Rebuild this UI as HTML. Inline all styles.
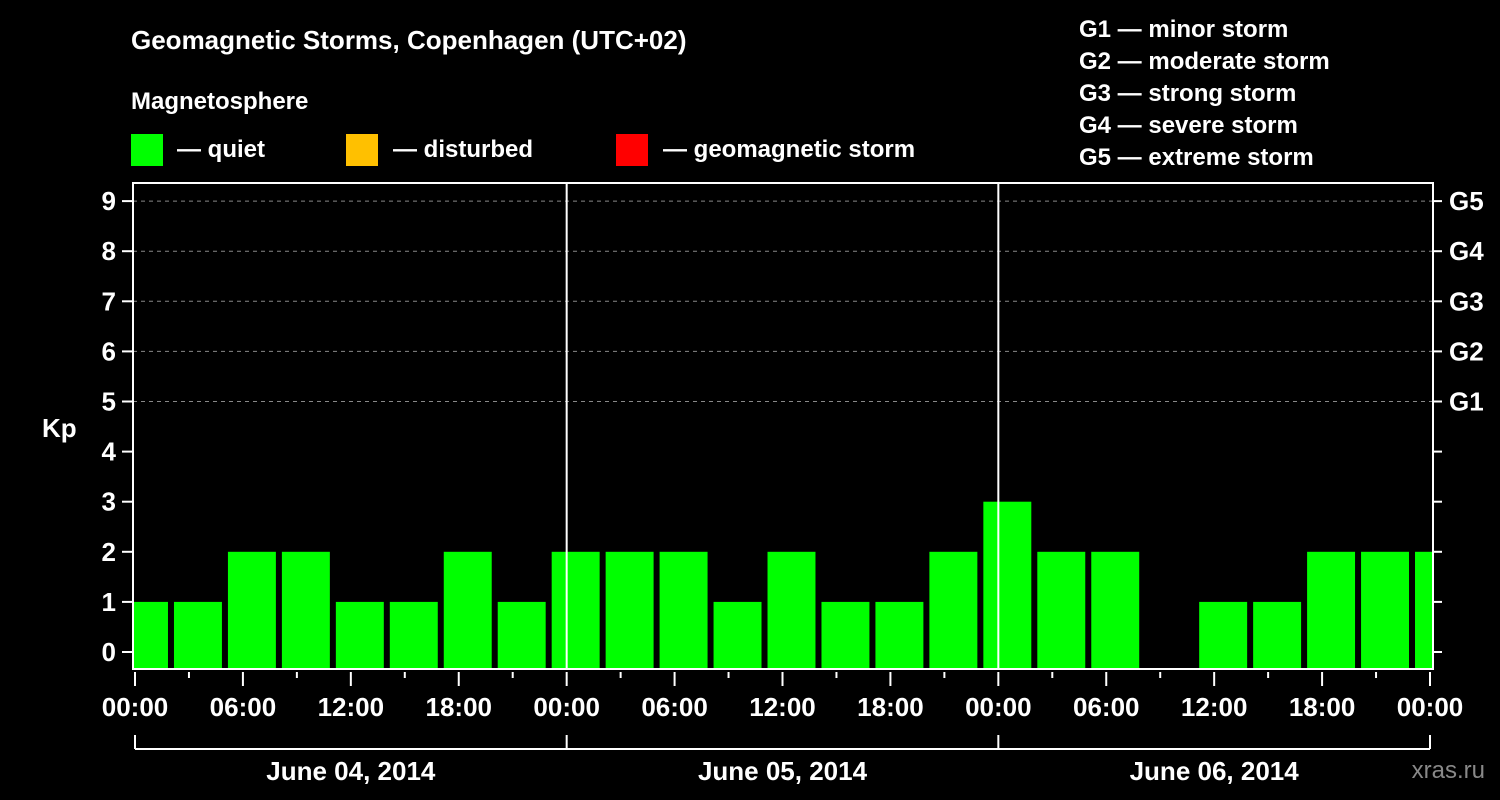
<!DOCTYPE html>
<html><head><meta charset="utf-8"><style>
body{margin:0;background:#000;}
svg{display:block;font-family:"Liberation Sans",Arial,sans-serif;font-weight:bold;}
</style></head><body>
<svg width="1500" height="800" id="chart">
<rect width="1500" height="800" fill="#000"/>
<text x="131" y="49" fill="#fff" font-size="26">Geomagnetic Storms, Copenhagen (UTC+02)</text>
<text x="131" y="109" fill="#fff" font-size="24">Magnetosphere</text>
<rect x="131" y="134" width="32" height="32" fill="#00ff00"/>
<text x="177" y="157" fill="#fff" font-size="24">— quiet</text>
<rect x="346" y="134" width="32" height="32" fill="#ffc000"/>
<text x="393" y="157" fill="#fff" font-size="24">— disturbed</text>
<rect x="616" y="134" width="32" height="32" fill="#ff0000"/>
<text x="663" y="157" fill="#fff" font-size="24">— geomagnetic storm</text>
<g fill="#fff" font-size="24">
<text x="1079" y="37">G1 — minor storm</text>
<text x="1079" y="69">G2 — moderate storm</text>
<text x="1079" y="101">G3 — strong storm</text>
<text x="1079" y="133">G4 — severe storm</text>
<text x="1079" y="165">G5 — extreme storm</text>
</g>
<text x="42" y="437" fill="#fff" font-size="26">Kp</text>
<text x="1485" y="778" fill="#888" font-size="24" font-weight="normal" text-anchor="end">xras.ru</text>
<defs><clipPath id="pc"><rect x="133" y="183" width="1299" height="486"/></clipPath></defs>
<g id="grid"></g><g id="bars" clip-path="url(#pc)"></g><g id="axes"></g>
</svg>
<script>
const kpValues=[1,1,2,2,1,1,2,1,2,2,2,1,2,1,1,2,3,2,2,null,1,1,2,2,2];
const yTicks=[0,1,2,3,4,5,6,7,8,9];
const gLabels=["G1","G2","G3","G4","G5"];
const gLevels=[5,6,7,8,9];
const timeLabels=["00:00","06:00","12:00","18:00"];
const dateLabels=["June 04, 2014","June 05, 2014","June 06, 2014"];
const NS="http://www.w3.org/2000/svg";
const L=133,R=1433,T=183,B=669,X0=135,HOUR=(1430-135)/72;
const y=v=>652-50.1*v;
const x=h=>X0+h*HOUR;
function mk(tag,attrs,parent,text){const e=document.createElementNS(NS,tag);for(const k in attrs)e.setAttribute(k,attrs[k]);if(text!==undefined)e.textContent=text;document.getElementById(parent).appendChild(e);return e;}
gLevels.forEach((g,i)=>{
 const l=mk('line',{x1:L,x2:R,y1:y(g),y2:y(g),stroke:'#888','stroke-dasharray':'4 4','stroke-width':1},'grid');
 
 
});
kpValues.forEach((v,k)=>{
 if(v===null||v<=0)return;
 const s=-1+3*k;
 const r=mk('rect',{x:x(s)+3,y:y(v),width:3*HOUR-6,height:B-y(v),fill:'#00ff00'},'bars');
 
 
});
const frame=mk('rect',{x:L,y:T,width:R-L,height:B-T,fill:'none',stroke:'#fff','stroke-width':2},'axes');


[1,2].forEach(d=>{
 const l=mk('line',{x1:x(24*d),x2:x(24*d),y1:T,y2:B,stroke:'#fff','stroke-width':2},'axes');
 
 
});
yTicks.forEach(t=>{
 mk('line',{x1:122,x2:L,y1:y(t),y2:y(t),stroke:'#fff','stroke-width':2},'axes');
 const tx=mk('text',{x:116,y:y(t)+9,fill:'#fff','font-size':26,'text-anchor':'end'},'axes',String(t));
 
 
 mk('line',{x1:R,x2:1442,y1:y(t),y2:y(t),stroke:'#fff','stroke-width':2},'axes');
});
gLabels.forEach((g,i)=>{
 const tx=mk('text',{x:1449,y:y(gLevels[i])+9,fill:'#fff','font-size':26},'axes',g);
 
 
});
for(let h=0;h<=72;h+=3){
 const major=h%6===0;
 mk('line',{x1:x(h),x2:x(h),y1:672,y2:major?686:678,stroke:'#fff','stroke-width':2},'axes');
 if(major){
  const tx=mk('text',{x:x(h),y:716,fill:'#fff','font-size':26,'text-anchor':'middle'},'axes',timeLabels[(h/6)%4]);
  
  
 }
}
mk('line',{x1:x(0),x2:x(72),y1:749,y2:749,stroke:'#fff','stroke-width':2},'axes');
for(let d=0;d<=3;d++) mk('line',{x1:x(24*d),x2:x(24*d),y1:735,y2:749,stroke:'#fff','stroke-width':2},'axes');
dateLabels.forEach((s,d)=>{
 const tx=mk('text',{x:x(24*d+12),y:780,fill:'#fff','font-size':26,'text-anchor':'middle'},'axes',s);
 
 
});
</script>
</body></html>
